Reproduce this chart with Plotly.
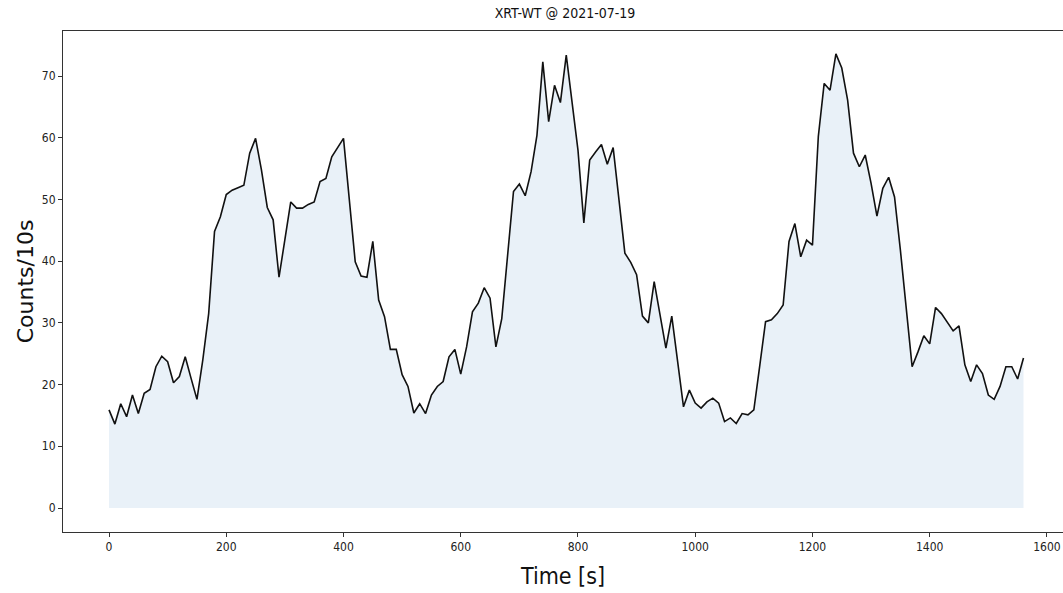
import plotly.graph_objects as go

# XRT-WT light curve, 10 s bins
time_s = list(range(0, 1570, 10))
counts = [
    15.9, 13.6, 16.9, 14.8, 18.3, 15.3, 18.6, 19.2, 22.9, 24.6,
    23.7, 20.3, 21.3, 24.5, 21.0, 17.6, 24.0, 31.5, 44.8, 47.2,
    50.8, 51.5, 51.9, 52.3, 57.5, 59.9, 54.8, 48.7, 46.7, 37.4,
    43.5, 49.6, 48.6, 48.6, 49.2, 49.6, 52.9, 53.4, 56.9, 58.3,
    59.9, 49.9, 39.9, 37.6, 37.4, 43.2, 33.7, 31.0, 25.7, 25.7,
    21.6, 19.7, 15.4, 16.9, 15.3, 18.3, 19.7, 20.5, 24.5, 25.7,
    21.7, 26.1, 31.8, 33.2, 35.7, 34.0, 26.1, 30.7, 41.0, 51.3,
    52.5, 50.6, 54.5, 60.4, 72.3, 62.6, 68.5, 65.7, 73.4, 65.5,
    58.0, 46.2, 56.4, 57.7, 58.9, 55.7, 58.4, 49.9, 41.3, 39.8,
    37.8, 31.1, 30.0, 36.7, 31.0, 25.9, 31.1, 23.7, 16.4, 19.1,
    17.0, 16.2, 17.2, 17.8, 17.0, 14.0, 14.6, 13.7, 15.3, 15.1,
    15.9, 23.0, 30.2, 30.5, 31.5, 32.9, 43.2, 46.1, 40.7, 43.4,
    42.6, 60.2, 68.8, 67.7, 73.6, 71.3, 66.1, 57.5, 55.3, 57.2,
    52.6, 47.3, 51.8, 53.6, 50.4, 41.8, 32.6, 22.9, 25.3, 27.9,
    26.6, 32.5, 31.5, 30.2, 28.7, 29.5, 23.2, 20.5, 23.2, 21.8,
    18.3, 17.6, 19.7, 22.9, 22.9, 20.9, 24.3,
]

x_ticks = [0, 200, 400, 600, 800, 1000, 1200, 1400, 1600]
y_ticks = [0, 10, 20, 30, 40, 50, 60, 70]

narrow = "DejaVu Sans Condensed, Liberation Sans Narrow, DejaVu Sans, sans-serif"

fig = go.Figure()
fig.add_trace(go.Scatter(
    x=time_s, y=counts, mode="lines",
    fill="tozeroy", fillcolor="rgb(233,241,248)",
    line=dict(color="#111111", width=1.6),
    hoverinfo="x+y", showlegend=False,
))

fig.update_layout(
    width=1063, height=593,
    margin=dict(l=63, r=0, t=31, b=61),
    paper_bgcolor="white", plot_bgcolor="white",
    title=dict(text="XRT-WT @ 2021-07-19", x=565 / 1063, xanchor="center",
               y=1 - 13 / 593, yanchor="middle",
               font=dict(family=narrow, size=14, color="#111111")),
    xaxis=dict(
        range=[-78.5, 1627.4], tickvals=x_ticks, ticks="outside", ticklen=4,
        tickcolor="#333333", showline=True, linecolor="#333333", linewidth=1,
        mirror=True, showgrid=False, zeroline=False,
        tickfont=dict(family=narrow, size=12, color="#222222"),
        title=dict(text="Time [s]", standoff=14,
                   font=dict(family=narrow, size=23, color="#111111")),
    ),
    yaxis=dict(
        range=[-3.89, 77.3], tickvals=y_ticks, ticks="outside", ticklen=4,
        tickcolor="#333333", showline=True, linecolor="#333333", linewidth=1,
        showgrid=False, zeroline=False,
        tickfont=dict(family=narrow, size=12, color="#222222"),
        title=dict(text="Counts/10s", standoff=2,
                   font=dict(family="DejaVu Sans, sans-serif", size=22, color="#111111")),
    ),
)

fig.write_html("out.html")
